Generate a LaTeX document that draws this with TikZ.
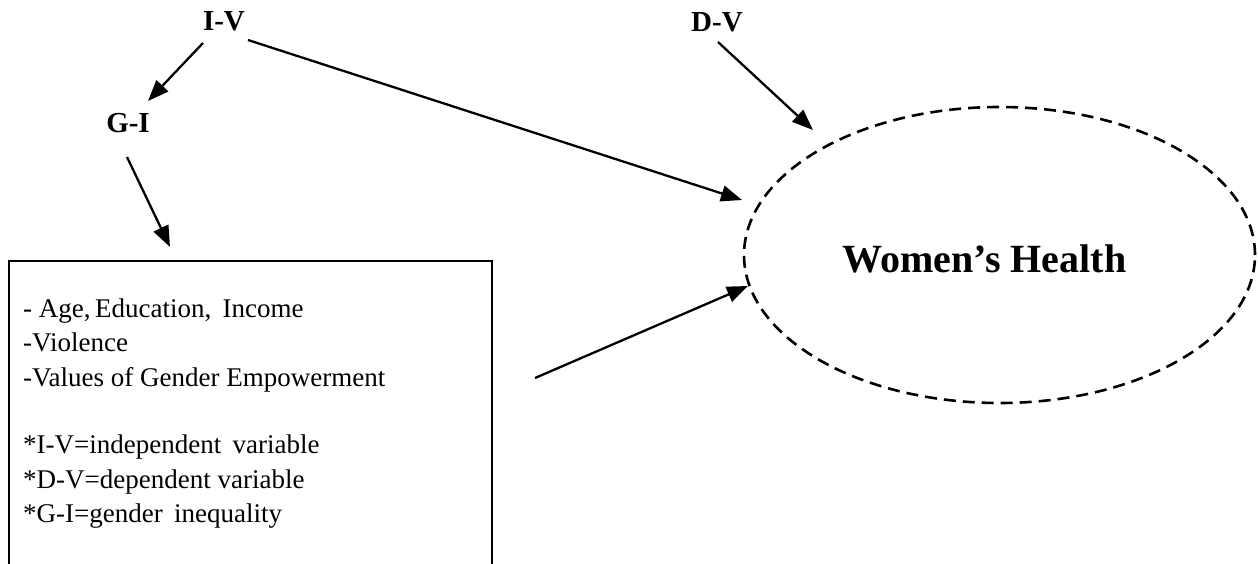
\documentclass[tikz,border=0pt]{standalone}
\usepackage{fontspec}
\setmainfont{Liberation Serif}
\usetikzlibrary{arrows.meta,shapes.geometric}
\begin{document}
\begin{tikzpicture}[x=1pt,y=-1pt,
  lbl/.style={font=\fontsize{29}{34}\selectfont\bfseries, inner sep=0pt, anchor=base},
  txt/.style={font=\fontsize{27}{32}\selectfont, inner sep=0pt, anchor=base west},
  arr/.style={line width=2.3pt, -{Triangle[length=21pt,width=16pt]}},
  boxstyle/.style={draw, line width=1.6pt, rectangle, inner sep=0pt, anchor=north west},
  ellstyle/.style={draw, ellipse, line width=2.6pt, dash pattern=on 12pt off 7pt, inner sep=0pt},
]
\useasboundingbox (0,0) rectangle (1258,563);

% labels
\node[lbl] (iv) at (224,30) {I-V};
\node[lbl] (dv) at (717,31) {D-V};
\node[lbl] (gi) at (128,132) {G-I};

% box
\node[boxstyle, minimum width=483pt, minimum height=340pt] (box) at (8,260) {};
\node[txt] (l1) at (23,317) {- Age,\,Education, \,Income};
\node[txt] (l2) at (23,351) {-Violence};
\node[txt] (l3) at (23,386) {-Values of Gender Empowerment};
\node[txt] (l4) at (23,453) {*I-V=independent \,variable};
\node[txt] (l5) at (23,488) {*D-V=dependent variable};
\node[txt] (l6) at (23,522) {*G-I=gender \,inequality};

% ellipse
\node[ellstyle, minimum width=511pt, minimum height=296pt] (wh) at (999.5,255) {};
\node[font=\fontsize{40}{48}\selectfont\bfseries, inner sep=0pt, anchor=base west] (wht) at (842,272) {Women’s Health};

% connector ends
\coordinate (ivs1) at (203,43);
\coordinate (gie)  at (148,101);
\coordinate (gis)  at (127,157);
\coordinate (boxe) at (170,247);
\coordinate (ivs2) at (248,40);
\coordinate (whe1) at (742,200);
\coordinate (dvs)  at (718,42);
\coordinate (whe2) at (813,130);
\coordinate (boxs) at (535,378);
\coordinate (whe3) at (748,286);

\draw[arr] (ivs1) -- (gie);
\draw[arr] (gis) -- (boxe);
\draw[arr] (ivs2) -- (whe1);
\draw[arr] (dvs) -- (whe2);
\draw[arr] (boxs) -- (whe3);
\end{tikzpicture}
\end{document}
